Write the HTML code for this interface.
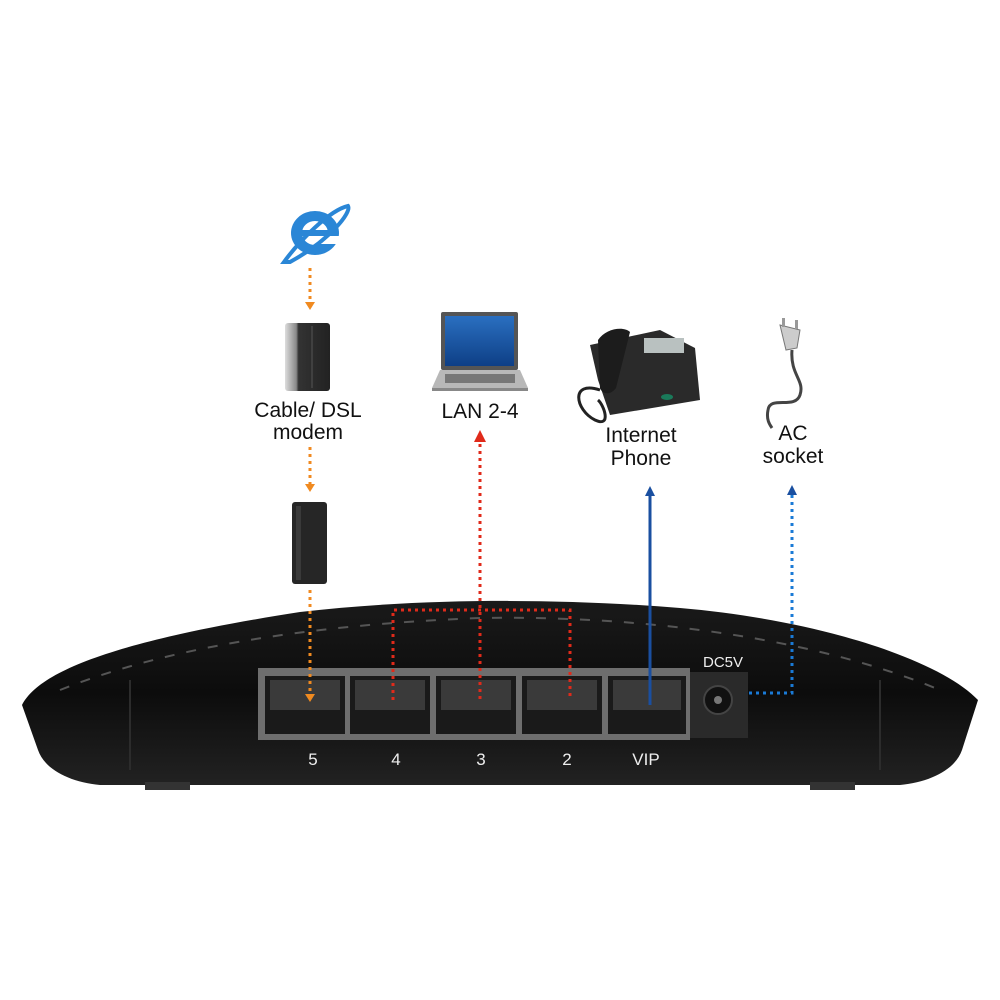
<!DOCTYPE html>
<html><head><meta charset="utf-8"><style>
html,body{margin:0;padding:0;background:#fff;}
svg{display:block}
text{font-family:"Liberation Sans",Arial,sans-serif;}
</style></head><body>
<svg width="1000" height="1000" viewBox="0 0 1000 1000" xmlns="http://www.w3.org/2000/svg">
<defs>
<linearGradient id="rg" x1="0" y1="0" x2="0" y2="1"><stop offset="0" stop-color="#1a1a1a"/><stop offset="0.5" stop-color="#0c0c0c"/><stop offset="1" stop-color="#222"/></linearGradient>
<linearGradient id="scr" x1="0" y1="0" x2="0" y2="1"><stop offset="0" stop-color="#2a6fc0"/><stop offset="1" stop-color="#0e3f86"/></linearGradient>
<linearGradient id="mod" x1="0" y1="0" x2="1" y2="0"><stop offset="0" stop-color="#ddd"/><stop offset="0.25" stop-color="#888"/><stop offset="0.3" stop-color="#333"/><stop offset="1" stop-color="#222"/></linearGradient>
</defs>
<!-- IE icon -->
<ellipse cx="315" cy="233" rx="24" ry="22" fill="#2a86d6"/>
<ellipse cx="315" cy="233" rx="13" ry="12" fill="#fff"/>
<rect x="300" y="230" width="30" height="6" fill="#2a86d6"/>
<rect x="318" y="236" width="24" height="8" fill="#fff"/>
<path d="M284 262 C300 240 330 210 348 206 C352 212 330 240 290 262Z" fill="none" stroke="#2a86d6" stroke-width="4"/>
<!-- modem 1 -->
<rect x="285" y="323" width="45" height="68" rx="3" fill="url(#mod)"/>
<line x1="312" y1="326" x2="312" y2="388" stroke="#555" stroke-width="1"/>
<!-- modem 2 -->
<rect x="292" y="502" width="35" height="82" rx="3" fill="#262626"/>
<rect x="296" y="506" width="5" height="74" fill="#3a3a3a"/>
<!-- laptop -->
<rect x="441" y="312" width="77" height="58" rx="2" fill="#555"/>
<rect x="445" y="316" width="69" height="50" fill="url(#scr)"/>
<path d="M432 388 L440 370 L520 370 L528 388Z" fill="#b8b8b8"/>
<rect x="445" y="374" width="70" height="9" fill="#777"/>
<rect x="432" y="388" width="96" height="3" fill="#888"/>
<!-- phone -->
<path d="M590 345 L660 330 L695 348 L700 400 L610 415 L598 380Z" fill="#2a2a2a"/>
<rect x="644" y="338" width="40" height="15" fill="#b9c1c0"/>
<path d="M598 340 C606 328 624 326 630 332 L616 388 C610 396 602 394 600 388Z" fill="#1c1c1c"/>
<path d="M600 390 C570 380 575 410 595 420 C612 428 604 405 598 400" fill="none" stroke="#222" stroke-width="3"/>
<ellipse cx="667" cy="397" rx="6" ry="3" fill="#1a7a5a"/>
<!-- plug -->
<path d="M780 325 L800 330 L797 348 L786 350Z" fill="#ccc" stroke="#777"/>
<rect x="782" y="318" width="3" height="9" fill="#999"/><rect x="795" y="320" width="3" height="9" fill="#999"/>
<path d="M792 350 C790 375 805 380 800 395 C795 410 770 395 768 410 C766 420 770 425 772 428" fill="none" stroke="#444" stroke-width="3"/>
<!-- labels -->
<g font-size="21" fill="#111" text-anchor="middle">
<text x="308" y="417">Cable/ DSL</text><text x="308" y="439">modem</text>
<text x="480" y="418">LAN 2-4</text>
<text x="641" y="442">Internet</text><text x="641" y="465">Phone</text>
<text x="793" y="440">AC</text><text x="793" y="463">socket</text>
</g>
<!-- router body -->
<path d="M22 705 C40 670 120 640 300 612 C420 598 560 598 680 608 C820 620 940 660 978 700 L962 750 C955 770 930 782 900 785 L100 785 C70 782 45 770 38 750Z" fill="url(#rg)"/>
<path d="M60 690 C160 650 300 625 480 618 C650 615 820 640 940 690" fill="none" stroke="#555" stroke-width="2" stroke-dasharray="10 12"/>
<path d="M130 680 L130 770" stroke="#2c2c2c" stroke-width="2"/><path d="M880 680 L880 770" stroke="#2c2c2c" stroke-width="2"/>
<rect x="145" y="782" width="45" height="8" fill="#333"/><rect x="810" y="782" width="45" height="8" fill="#333"/>
<!-- port panel -->
<rect x="258" y="668" width="432" height="72" fill="#6e6e6e"/>
<g fill="#1a1a1a">
<rect x="265" y="676" width="80" height="58"/><rect x="350" y="676" width="80" height="58"/><rect x="436" y="676" width="80" height="58"/><rect x="522" y="676" width="80" height="58"/><rect x="608" y="676" width="78" height="58"/>
</g>
<g fill="#3a3a3a">
<rect x="270" y="680" width="70" height="30"/><rect x="355" y="680" width="70" height="30"/><rect x="441" y="680" width="70" height="30"/><rect x="527" y="680" width="70" height="30"/><rect x="613" y="680" width="68" height="30"/>
</g>
<rect x="690" y="672" width="58" height="66" fill="#2a2a2a"/>
<circle cx="718" cy="700" r="14" fill="#111" stroke="#444" stroke-width="2"/>
<circle cx="718" cy="700" r="4" fill="#777"/>
<g font-size="17" fill="#eee" text-anchor="middle">
<text x="313" y="765">5</text><text x="396" y="765">4</text><text x="481" y="765">3</text><text x="567" y="765">2</text><text x="646" y="765">VIP</text>
<text x="723" y="667" font-size="15">DC5V</text>
</g>
<!-- connectors -->
<g fill="none" stroke-width="3" stroke-dasharray="3 4">
<line x1="310" y1="268" x2="310" y2="303" stroke="#f08a20"/>
<line x1="310" y1="447" x2="310" y2="485" stroke="#f08a20"/>
<line x1="310" y1="590" x2="310" y2="695" stroke="#f08a20"/>
<line x1="480" y1="444" x2="480" y2="700" stroke="#e02a1a"/>
<polyline points="393,700 393,610 570,610 570,700" stroke="#e02a1a"/>
<polyline points="792,495 792,693 745,693" stroke="#1a7ad6"/>
</g>
<line x1="650" y1="496" x2="650" y2="705" stroke="#1a4fa0" stroke-width="3"/>
<g>
<path d="M305 302 L315 302 L310 310Z" fill="#f08a20"/>
<path d="M305 484 L315 484 L310 492Z" fill="#f08a20"/>
<path d="M305 694 L315 694 L310 702Z" fill="#f08a20"/>
<path d="M474 442 L486 442 L480 430Z" fill="#e02a1a"/>
<path d="M645 496 L655 496 L650 486Z" fill="#1a4fa0"/>
<path d="M787 495 L797 495 L792 485Z" fill="#1a4fa0"/>
</g>
</svg>
</body></html>
